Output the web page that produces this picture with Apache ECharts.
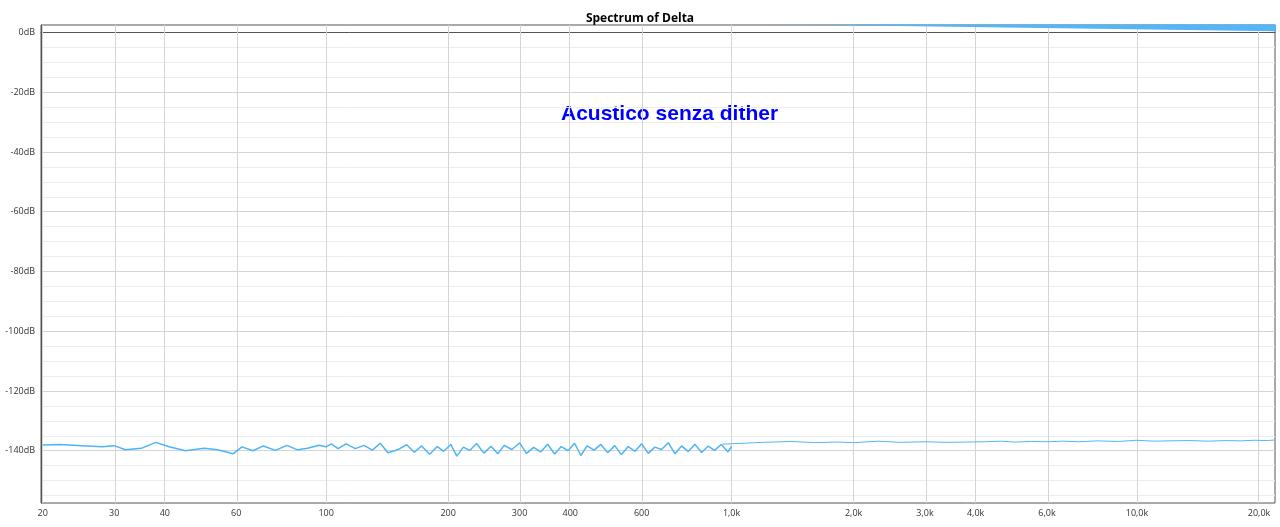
<!DOCTYPE html>
<html>
<head>
<meta charset="utf-8">
<script src="https://cdn.jsdelivr.net/npm/echarts@6/dist/echarts.min.js"></script>
<style>html,body{margin:0;padding:0;background:#fff}#c{width:1280px;height:527px}</style>
</head>
<body>
<div id="c"></div>
<script>
// spettro (Hz, dB)
var lineFreq = [20,22,25,28,30,32,35,38,41,45,50,54,59,62,66,70,75,80,85,90,96,100,103,107,112,118,124,130,136,142,150,
  158,165,172,180,188,195,203,210,218,226,235,245,255,265,275,287,300,312,325,338,352,366,380,395,410,425,440,458,476,495,515,
  535,556,578,600,623,647,672,698,725,753,782,812,843,875,908,943,980,1000];
var lineDb = [-138.1,-137.9,-138.3,-138.7,-138.3,-139.7,-139.2,-137.2,-138.7,-140.0,-139.2,-139.7,-141.0,-138.7,-140.0,-138.4,-139.9,-138.2,-139.7,-139.2,-138.2,-138.7,-137.7,-139.3,-137.7,-139.3,-138.2,-139.8,-137.5,-140.7,-139.7,
  -138.0,-140.5,-138.4,-141.2,-138.6,-140.2,-137.9,-141.8,-138.8,-139.9,-137.6,-140.8,-138.5,-141.0,-138.2,-139.6,-137.4,-140.9,-138.9,-140.4,-137.8,-141.1,-138.6,-140.0,-137.5,-141.6,-138.4,-139.8,-137.9,-140.7,-138.3,
  -141.3,-138.6,-140.2,-137.7,-140.9,-138.8,-139.6,-137.3,-141.0,-138.4,-140.3,-137.8,-140.6,-138.5,-139.9,-137.9,-140.4,-138.6];
// banda di rumore sopra 1 kHz: inviluppo inferiore e superiore
var bandFreq = [950,1200,1400,1600,1800,2000,2300,2600,3000,3400,3800,4200,4600,5000,5500,6000,6600,7200,8000,9000,10000,11000,12000,13500,15000,16500,18000,19500,21000,21900];
var bandLow  = [-140.4,-141.5,-140.8,-141.4,-141.2,-141.0,-141.6,-141.3,-141.2,-141.4,-141.3,-142.6,-141.5,-141.6,-142.4,-141.5,-141.7,-141.6,-141.8,-141.9,-141.8,-142.0,-141.9,-142.1,-142.2,-142.0,-142.3,-142.1,-142.4,-142.5];
var bandHigh = [-137.8,-137.2,-136.9,-137.3,-137.1,-137.3,-136.8,-137.2,-137.0,-137.2,-137.1,-137.0,-136.8,-137.1,-136.9,-137.0,-136.8,-137.0,-136.7,-136.9,-136.5,-136.8,-136.7,-136.6,-136.8,-136.6,-136.7,-136.5,-136.6,-136.4];
var tickFreq = [20,30,40,60,100,200,300,400,600,1000,2000,3000,4000,6000,10000,20000];

var lg = function (f) { return Math.log10(f); };
function fmtFreq(f) {
  if (f >= 1000) return (f / 1000).toFixed(1).replace('.', ',') + 'k';
  return String(f);
}

var lineData = lineFreq.map(function (f, i) { return [lg(f), lineDb[i]]; });
var highData = bandFreq.map(function (f, i) { return [lg(f), bandHigh[i]]; });
var spanData = bandFreq.map(function (f, i) { return [lg(f), bandLow[i] - bandHigh[i]]; });
var tickLogs = tickFreq.map(lg);

// colori delle linee orizzontali: passo 2.5 dB partendo da -157.5
var minorC = '#ececec', majorC = '#d4d4d4', none = 'rgba(0,0,0,0)';

var chart = echarts.init(document.getElementById('c'));
chart.setOption({
  animation: false,
  title: {
    text: 'Spectrum of Delta', left: 'center', top: 8,
    textStyle: { fontFamily: 'Open Sans', fontSize: 12, fontWeight: 'bold', color: '#000' }
  },
  graphic: [{
    type: 'text', left: 561, top: 104,
    style: { text: 'Acustico senza dither', fill: '#0000ff', font: 'bold 21px "Liberation Sans", Arial' }
  }],
  grid: { left: 41, right: 5, top: 25, bottom: 24, show: true, borderColor: '#555', borderWidth: 1 },
  xAxis: {
    type: 'value', min: lg(19.8), max: lg(21900),
    axisLine: { show: true, lineStyle: { color: '#555' } },
    axisTick: { show: false },
    axisLabel: {
      customValues: tickLogs, color: '#333', fontSize: 9, fontFamily: 'Open Sans', margin: 6,
      formatter: function (v) { return fmtFreq(Math.round(Math.pow(10, v))); }
    },
    splitLine: { show: false }
  },
  yAxis: {
    type: 'value', min: -157.5, max: 2.5, interval: 2.5,
    axisLine: { show: true, lineStyle: { color: '#555' } },
    axisTick: { show: false },
    axisLabel: {
      color: '#333', fontSize: 9, fontFamily: 'Open Sans', margin: 6,
      formatter: function (v) { return (Math.round(v) % 20 === 0 && Math.abs(v - Math.round(v)) < 1e-6) ? Math.round(v) + 'dB' : ''; }
    },
    splitLine: { show: true, lineStyle: { width: 1, color: [none, minorC, none, minorC, none, minorC, none, majorC] } }
  },
  series: [{
    type: 'line', data: lineData, showSymbol: false, z: 3,
    lineStyle: { color: '#4db4f7', width: 1.5 },
    markLine: {
      silent: true, symbol: 'none', label: { show: false }, z: 1,
      lineStyle: { color: '#d4d4d4', type: 'solid', width: 1 },
      data: tickLogs.map(function (v) { return { xAxis: v }; })
    }
  }, {
    type: 'line', data: highData, stack: 'band', stackStrategy: 'all', showSymbol: false,
    lineStyle: { width: 1, color: '#55b6f7' }, areaStyle: { opacity: 0 }
  }, {
    type: 'line', data: spanData, stack: 'band', stackStrategy: 'all', showSymbol: false,
    lineStyle: { width: 1, color: '#55b6f7' }, areaStyle: { color: '#55b6f7', opacity: 1 }
  }]
});
</script>
</body>
</html>
